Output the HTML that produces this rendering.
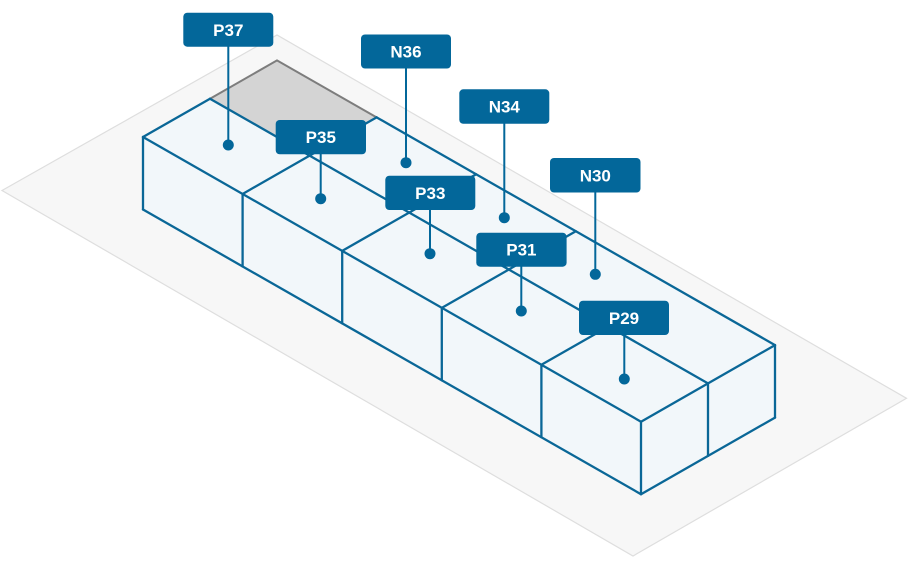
<!DOCTYPE html>
<html>
<head>
<meta charset="utf-8">
<style>
  html, body { margin: 0; padding: 0; background: #ffffff; }
  body { width: 908px; height: 569px; overflow: hidden; }
  svg { display: block; }
  .lbl { font-family: "Liberation Sans", Arial, sans-serif; font-weight: bold; font-size: 17px; fill: #ffffff; }
</style>
</head>
<body>
<svg width="908" height="569" viewBox="0 0 908 569" xmlns="http://www.w3.org/2000/svg">
  <!-- ground plane -->
  <polygon points="2,190.5 277,35 906.5,398.3 633,556" fill="#f7f7f7" stroke="#dedede" stroke-width="1.2"/>

  <!-- box faces fill -->
  <g fill="#f2f7fa" stroke="none">
    <polygon points="143,137 641,421.7 641,494.2 143,209.5"/>
    <polygon points="641,421.7 775,345.1 775,417.6 641,494.2"/>
    <polygon points="143,137 641,421.7 775,345.1 376.6,117.34 309.6,155.64 210,98.7"/>
  </g>

  <!-- gray empty cell -->
  <polygon points="210,98.7 277,60.4 376.6,117.34 309.6,155.64" fill="#d4d4d4" stroke="none"/>
  <polyline points="210,98.7 277,60.4 376.6,117.34" fill="none" stroke="#7d7d7d" stroke-width="2"/>

  <!-- box edges -->
  <g fill="none" stroke="#0a6797" stroke-width="2.3" stroke-linejoin="round" stroke-linecap="round">
    <line x1="143" y1="137" x2="641" y2="421.7"/>
    <line x1="210" y1="98.7" x2="708" y2="383.4"/>
    <line x1="376.6" y1="117.34" x2="775" y2="345.1"/>
    <line x1="143" y1="137" x2="210" y2="98.7"/>
    <line x1="242.6" y1="193.94" x2="376.6" y2="117.34"/>
    <line x1="342.2" y1="250.88" x2="476.2" y2="174.28"/>
    <line x1="441.8" y1="307.82" x2="575.8" y2="231.22"/>
    <line x1="541.4" y1="364.76" x2="648" y2="304"/>
    <line x1="641" y1="421.7" x2="775" y2="345.1"/>
    <line x1="143" y1="137" x2="143" y2="209.5"/>
    <line x1="242.6" y1="193.94" x2="242.6" y2="266.44"/>
    <line x1="342.2" y1="250.88" x2="342.2" y2="323.38"/>
    <line x1="441.8" y1="307.82" x2="441.8" y2="380.32"/>
    <line x1="541.4" y1="364.76" x2="541.4" y2="437.26"/>
    <line x1="641" y1="421.7" x2="641" y2="494.2"/>
    <line x1="143" y1="209.5" x2="641" y2="494.2"/>
    <line x1="708" y1="383.4" x2="708" y2="455.9"/>
    <line x1="775" y1="345.1" x2="775" y2="417.6"/>
    <line x1="641" y1="494.2" x2="775" y2="417.6"/>
  </g>

  <!-- stems and dots -->
  <g stroke="#03679a" stroke-width="2" fill="#03679a">
    <line x1="228.3" y1="46" x2="228.3" y2="145"/>
    <circle cx="228.3" cy="145" r="5.5" stroke="none"/>
    <line x1="406" y1="68" x2="406" y2="162.7"/>
    <circle cx="406" cy="162.7" r="5.5" stroke="none"/>
    <line x1="504.3" y1="123" x2="504.3" y2="217.7"/>
    <circle cx="504.3" cy="217.7" r="5.5" stroke="none"/>
    <line x1="595.3" y1="192" x2="595.3" y2="274.3"/>
    <circle cx="595.3" cy="274.3" r="5.5" stroke="none"/>
    <line x1="320.7" y1="154" x2="320.7" y2="198.7"/>
    <circle cx="320.7" cy="198.7" r="5.5" stroke="none"/>
    <line x1="430" y1="209" x2="430" y2="253.7"/>
    <circle cx="430" cy="253.7" r="5.5" stroke="none"/>
    <line x1="521.3" y1="266" x2="521.3" y2="311"/>
    <circle cx="521.3" cy="311" r="5.5" stroke="none"/>
    <line x1="624.3" y1="334" x2="624.3" y2="379"/>
    <circle cx="624.3" cy="379" r="5.5" stroke="none"/>
  </g>

  <!-- labels -->
  <g fill="#03679a">
    <rect x="183.3" y="12.7" width="90" height="34" rx="4"/>
    <rect x="361" y="34.5" width="90" height="34" rx="4"/>
    <rect x="459.3" y="89.3" width="90" height="34.5" rx="4"/>
    <rect x="550" y="158" width="90.5" height="34.5" rx="4"/>
    <rect x="275.7" y="120" width="90.3" height="34.3" rx="4"/>
    <rect x="385.3" y="175.7" width="90" height="34.3" rx="4"/>
    <rect x="476.3" y="232.7" width="90.3" height="34" rx="4"/>
    <rect x="579" y="300.7" width="90" height="34.3" rx="4"/>
  </g>
  <g class="lbl" text-anchor="middle">
    <text x="228.3" y="35.8">P37</text>
    <text x="406" y="57.6">N36</text>
    <text x="504.3" y="112.6">N34</text>
    <text x="595.3" y="181.3">N30</text>
    <text x="320.8" y="143.2">P35</text>
    <text x="430.3" y="198.9">P33</text>
    <text x="521.4" y="255.7">P31</text>
    <text x="624" y="323.9">P29</text>
  </g>
</svg>
</body>
</html>
